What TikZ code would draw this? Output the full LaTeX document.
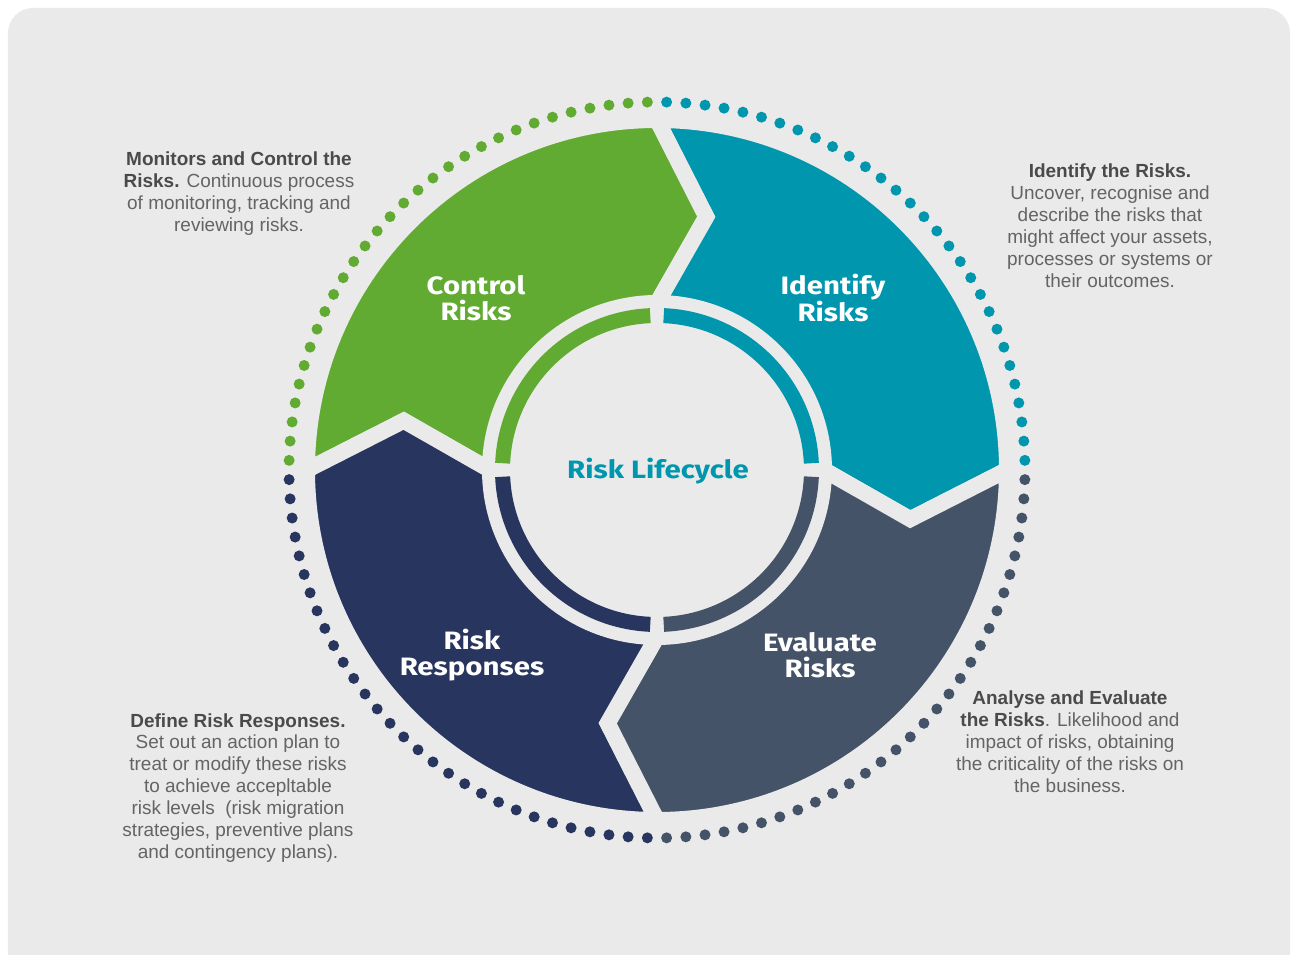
\documentclass[tikz,border=0pt]{standalone}
\usepackage{fontspec}
\setmainfont{Liberation Sans}
\newfontfamily\labelfont{Fira Sans}[FakeStretch=1.17]

\definecolor{panel}{HTML}{EAEAEA}
\definecolor{riskgreen}{HTML}{62AB32}
\definecolor{riskteal}{HTML}{0096AD}
\definecolor{riskslate}{HTML}{455368}
\definecolor{risknavy}{HTML}{28355E}
\definecolor{notegrey}{HTML}{646464}
\definecolor{notedark}{HTML}{4A4A4A}

\newcommand{\hd}[1]{{\color{notedark}\bfseries #1}}

\begin{document}
\begin{tikzpicture}[x=0.02cm,y=0.02cm,
  seg/.style={draw=panel,line width=0.32cm,line join=miter},
  ring/.style={line width=0.3cm},
  main label/.style={text=white,font=\labelfont\bfseries\fontsize{14.3}{14.5}\selectfont,align=center},
  note/.style={text=notegrey,font=\fontsize{10.8}{12.5}\selectfont,align=center}]

  \useasboundingbox (-657,-485) rectangle (638,470);
  \fill[white] (-657,-485) rectangle (638,470);
  \fill[panel,rounded corners=0.5cm] (-649,-530) rectangle (633,462);

  % dotted rim
  \foreach \a/\c in {0/riskteal,90/riskgreen,180/risknavy,270/riskslate}
    \foreach \k in {0,...,29}
      \fill[\c] (\a+1.5+3*\k:368) circle (5.5);

  % arrow segments
  \foreach \a/\c in {0/riskteal,90/riskgreen,180/risknavy,270/riskslate}
    \filldraw[seg,fill=\c] (\a+90:350) arc[start angle=\a+90,end angle=\a,radius=350]
      -- (\a-11:258) -- (\a:167) arc[start angle=\a,end angle=\a+90,radius=167]
      -- (\a+79:258) -- cycle;

  % inner ring
  \foreach \a/\c in {0/riskteal,90/riskgreen,180/risknavy,270/riskslate}
    \draw[ring,\c] (\a+2.5:154.5) arc[start angle=\a+2.5,end angle=\a+87.5,radius=154.5];

  \node[main label] (control) at (-181,172) {Control\\Risks};
  \node[main label] (identify) at (176,172) {Identify\\Risks};
  \node[main label] (respond) at (-185,-185) {Risk\\Responses};
  \node[main label] (evaluate) at (163,-185) {Evaluate\\Risks};
  \node[main label,text=riskteal] (cycle) at (1,-1) {Risk Lifecycle};

  \node[note] (monitor note) at (-418,276) {\hd{Monitors and Control the}\\\hd{Risks.} Continuous process\\of monitoring, tracking and\\reviewing risks.};
  \node[note] (identify note) at (453,244) {\hd{Identify the Risks.}\\Uncover, recognise and\\describe the risks that\\might affect your assets,\\processes or systems or\\their outcomes.};
  \node[note] (respond note) at (-419,-318) {\hd{Define Risk Responses.}\\Set out an action plan to\\treat or modify these risks\\to achieve accepltable\\risk levels~ (risk migration\\strategies, preventive plans\\and contingency plans).};
  \node[note] (evaluate note) at (413,-272) {\hd{Analyse and Evaluate}\\\hd{the Risks}. Likelihood and\\impact of risks, obtaining\\the criticality of the risks on\\the business.};
\end{tikzpicture}
\end{document}
